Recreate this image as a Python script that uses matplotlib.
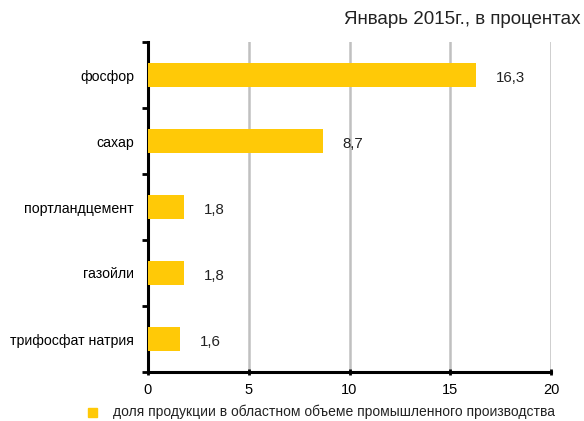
import matplotlib
matplotlib.use("Agg")
import matplotlib.pyplot as plt
from matplotlib.patches import Rectangle

plt.rcParams['font.family'] = ['Liberation Sans', 'DejaVu Sans']

categories = ["фосфор", "сахар", "портландцемент", "газойли", "трифосфат натрия"]
values = [16.3, 8.7, 1.8, 1.8, 1.6]
value_labels = ["16,3", "8,7", "1,8", "1,8", "1,6"]
x_ticks = [0, 5, 10, 15, 20]
title = "Январь 2015г., в процентах"
legend_label = "доля продукции в областном объеме промышленного производства"
bar_color = "#FFC907"

fig = plt.figure(figsize=(5.84, 4.21), dpi=100)
ax = fig.add_axes([148/584, 49/421, (551-148)/584, (372-42)/421])

n = len(categories)
ypos = list(range(n))[::-1]
ax.barh(ypos, values, height=0.37, color=bar_color, zorder=3)
ax.set_ylim(-0.5, n - 0.5)
ax.set_xlim(0, 20)

for y, v, lab in zip(ypos, values, value_labels):
    ax.annotate(lab, (v, y), xytext=(14, -2.5), textcoords='offset points',
                ha='left', va='center', fontsize=10.8, color='#222222')

ax.set_xticks(x_ticks)
ax.set_xticklabels([str(t) for t in x_ticks], fontsize=10.5)
ax.set_yticks([i - 0.5 for i in range(n + 1)])
ax.set_yticklabels([])
ax.set_yticks(ypos, minor=True)
ax.set_yticklabels(categories, minor=True, fontsize=10.2)
ax.tick_params(axis='y', which='minor', length=0, pad=10)
ax.tick_params(axis='y', which='major', length=4, width=2, direction='out')
ax.tick_params(axis='x', length=4, width=2, direction='inout', pad=6)

ax.grid(axis='x', color='#c0c0c0', linewidth=1.8, zorder=0)
for s in ['top', 'right']:
    ax.spines[s].set_visible(False)
ax.spines['left'].set_linewidth(2.2)
ax.spines['bottom'].set_linewidth(2.2)

fig.text(580/584, 1 - 20/421, title, ha='right', va='center', fontsize=13.5, color='#222222')

fig.patches.append(Rectangle((88/584, 1 - 417/421), 9/584, 9/421, transform=fig.transFigure,
                             color=bar_color, figure=fig))
fig.text(113/584, 1 - 412/421, legend_label, ha='left', va='center', fontsize=10, color='#222222')

fig.savefig("out.png", dpi=100)
